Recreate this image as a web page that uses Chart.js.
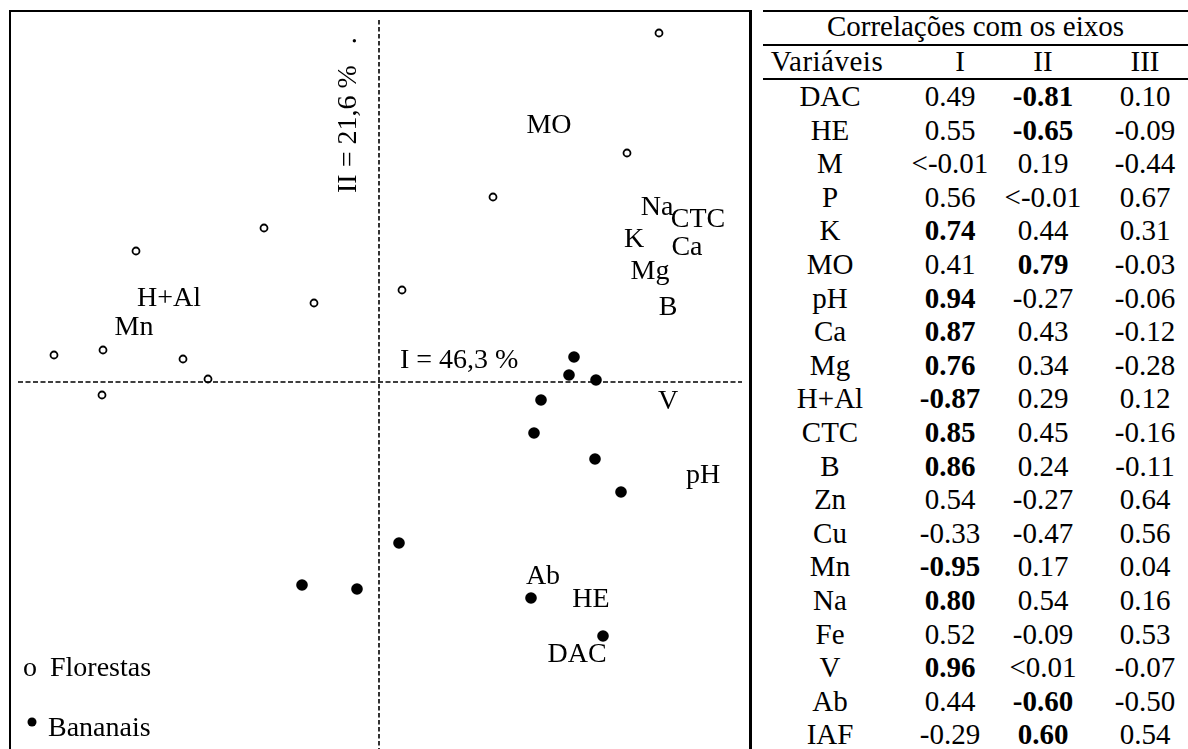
<!DOCTYPE html>
<html>
<head>
<meta charset="utf-8">
<script src="https://cdn.jsdelivr.net/npm/chart.js@4.4.1/dist/chart.umd.min.js"></script>
<style>
  html, body { margin: 0; padding: 0; background: #fff; overflow: hidden; }
  body { width: 1188px; height: 749px; position: relative; color: #000;
         font-family: "Liberation Serif", "Times New Roman", serif; }
  #plotBox { position: absolute; left: 9px; top: 10px; width: 738px; height: 760px;
             border-left: 2px solid #000; border-top: 2px solid #000; border-right: 3px solid #000; }
  #pca { position: absolute; left: 0; top: 0; }
  #corr { position: absolute; left: 763px; top: 10px; border-collapse: separate; border-spacing: 0;
          table-layout: fixed; font-size: 29px; }
  #corr td { padding: 0; text-align: center; white-space: nowrap; line-height: 33.6px; }
  #corr td.title { border-top: 2px solid #000; border-bottom: 2px solid #000; line-height: 29px; padding-bottom: 3px; }
  #corr tr.head td { border-bottom: 2px solid #000; line-height: 30px; padding-bottom: 2px; }
  #corr td.c3 { padding-left: 19px; }
  #corr tr.head td.c0 { letter-spacing: 0.5px; padding-right: 6px; }
  #corr tr.head td.c1 { padding-left: 20px; }
</style>
</head>
<body>
<div id="plotBox">
  <canvas id="pca" width="738" height="737"></canvas>
</div>
<table id="corr">
  <colgroup><col style="width:134px"><col style="width:106px"><col style="width:80px"><col style="width:105px"></colgroup>
  <tbody id="corrBody"></tbody>
</table>
<script>
// PCA scores (axis I, axis II)
const florestasX = [2.80, 2.48, 1.14, -1.15, -2.43, 0.23, -0.65, -3.25, -2.76, -1.96, -1.71, -2.77];
const florestasY = [3.49, 2.29, 1.85, 1.54, 1.31, 0.92, 0.79, 0.27, 0.32, 0.23, 0.03, -0.13];

const bananaisX = [1.95, 1.90, 2.17, 1.62, 1.55, 2.16, 2.42, 0.20, -0.77, -0.22, 1.52, 2.24];
const bananaisY = [0.25, 0.07, 0.02, -0.18, -0.51, -0.77, -1.10, -1.61, -2.03, -2.07, -2.16, -2.54];

// variable labels placed in the plane
const varNames = ['MO', 'Na', 'CTC', 'K', 'Ca', 'Mg', 'B', 'V', 'pH', 'Ab', 'HE', 'DAC', 'H+Al', 'Mn'];
const varX = [1.70, 2.78, 3.19, 2.55, 3.08, 2.71, 2.89, 2.89, 3.24, 1.64, 2.12, 1.98, -2.10, -2.45];
const varY = [2.58, 1.76, 1.64, 1.44, 1.36, 1.12, 0.76, -0.18, -0.92, -1.93, -2.16, -2.71, 0.85, 0.56];

const axisTitles = ['I = 46,3 %', 'II = 21,6 %   .'];

// correlation table
const tableTitle = 'Correlações com os eixos';
const tableHeader = ['Variáveis', 'I', 'II', 'III'];
const variables = ['DAC', 'HE', 'M', 'P', 'K', 'MO', 'pH', 'Ca', 'Mg', 'H+Al', 'CTC', 'B', 'Zn', 'Cu', 'Mn', 'Na', 'Fe', 'V', 'Ab', 'IAF'];
const corrI   = ['0.49', '0.55', '<-0.01', '0.56', '0.74', '0.41', '0.94', '0.87', '0.76', '-0.87', '0.85', '0.86', '0.54', '-0.33', '-0.95', '0.80', '0.52', '0.96', '0.44', '-0.29'];
const corrII  = ['-0.81', '-0.65', '0.19', '<-0.01', '0.44', '0.79', '-0.27', '0.43', '0.34', '0.29', '0.45', '0.24', '-0.27', '-0.47', '0.17', '0.54', '-0.09', '<0.01', '-0.60', '0.60'];
const corrIII = ['0.10', '-0.09', '-0.44', '0.67', '0.31', '-0.03', '-0.06', '-0.12', '-0.28', '0.12', '-0.16', '-0.11', '0.64', '0.56', '0.04', '0.16', '0.53', '-0.07', '-0.50', '0.54'];

// build the table (loadings >= 0.60 on axes I and II are in bold)
function cell(v, cls, bold) {
    const td = document.createElement('td');
    td.className = cls;
    if (bold) {
        const b = document.createElement('b');
        b.textContent = v;
        td.appendChild(b);
    } else {
        td.textContent = v;
    }
    return td;
}
const tbody = document.getElementById('corrBody');
let tr = document.createElement('tr');
const tt = cell(tableTitle, 'title', false);
tt.colSpan = 4;
tr.appendChild(tt);
tbody.appendChild(tr);
tr = document.createElement('tr');
tr.className = 'head';
tableHeader.forEach((h, i) => tr.appendChild(cell(h, 'c' + i, false)));
tbody.appendChild(tr);
const strong = v => Math.abs(parseFloat(v)) >= 0.6;
variables.forEach((name, i) => {
    const r = document.createElement('tr');
    r.appendChild(cell(name, 'c0', false));
    r.appendChild(cell(corrI[i], 'c1', strong(corrI[i])));
    r.appendChild(cell(corrII[i], 'c2', strong(corrII[i])));
    r.appendChild(cell(corrIII[i], 'c3', false));
    tbody.appendChild(r);
});

const FONT = '28px "Liberation Serif", "Times New Roman", serif';
const CAP = 0.331 * 28; // half cap height, to centre text on its anchor

// text labels, axis titles and the legend
const labelPlugin = {
    id: 'pcaLabels',
    afterDatasetsDraw(chart) {
        const ctx = chart.ctx;
        const xs = chart.scales.x, ys = chart.scales.y;
        ctx.save();
        ctx.fillStyle = '#000';
        ctx.font = FONT;
        ctx.textBaseline = 'alphabetic';
        ctx.textAlign = 'center';
        varNames.forEach((n, i) => {
            ctx.fillText(n, xs.getPixelForValue(varX[i]), ys.getPixelForValue(varY[i]) + CAP);
        });

        // axis titles
        ctx.textAlign = 'left';
        ctx.fillText(axisTitles[0], xs.getPixelForValue(0.21), ys.getPixelForValue(0.23) + CAP);
        ctx.save();
        ctx.translate(xs.getPixelForValue(-0.32), ys.getPixelForValue(1.89));
        ctx.rotate(-Math.PI / 2);
        ctx.fillText(axisTitles[1], 0, CAP);
        ctx.restore();

        // legend, bottom left
        const a = chart.chartArea;
        ctx.fillText('o', a.left + 12, a.top + 664);
        ctx.fillText('Florestas', a.left + 39, a.top + 664);
        ctx.beginPath();
        ctx.arc(a.left + 21, a.top + 710, 4.5, 0, Math.PI * 2);
        ctx.fill();
        ctx.fillText('Bananais', a.left + 37, a.top + 724);
        ctx.restore();
    }
};

const toPoints = (xs, ys) => xs.map((x, i) => ({ x: x, y: ys[i] }));

const ctx = document.getElementById('pca').getContext('2d');
new Chart(ctx, {
    type: 'scatter',
    data: {
        datasets: [
            {
                label: 'Eixo I',
                data: [{ x: -3.61, y: 0 }, { x: 3.63, y: 0 }],
                showLine: true,
                borderColor: '#000',
                borderWidth: 1.6,
                borderDash: [5, 2.5],
                pointRadius: 0
            },
            {
                label: 'Eixo II',
                data: [{ x: 0, y: 3.62 }, { x: 0, y: -3.67 }],
                showLine: true,
                borderColor: '#000',
                borderWidth: 1.6,
                borderDash: [4.5, 2.5],
                pointRadius: 0
            },
            {
                label: 'Florestas',
                data: toPoints(florestasX, florestasY),
                pointRadius: 3.5,
                pointBorderWidth: 1.8,
                pointBackgroundColor: '#fff',
                pointBorderColor: '#000'
            },
            {
                label: 'Bananais',
                data: toPoints(bananaisX, bananaisY),
                pointRadius: 5.8,
                pointBorderWidth: 0,
                pointBackgroundColor: '#000',
                pointBorderColor: '#000'
            }
        ]
    },
    options: {
        responsive: false,
        animation: false,
        events: [],
        layout: { padding: 0, autoPadding: false },
        plugins: {
            legend: { display: false },
            tooltip: { enabled: false }
        },
        scales: {
            x: { type: 'linear', min: -3.68, max: 3.70, display: false },
            y: { type: 'linear', min: -3.67, max: 3.70, display: false }
        }
    },
    plugins: [labelPlugin]
});
</script>
</body>
</html>
